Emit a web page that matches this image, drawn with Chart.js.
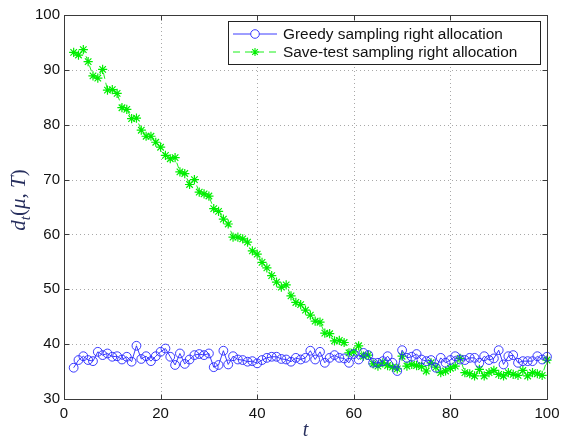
<!DOCTYPE html>
<html>
<head>
<meta charset="utf-8">
<script src="https://cdn.jsdelivr.net/npm/chart.js@4/dist/chart.umd.min.js"></script>
<style>
  html, body { margin: 0; padding: 0; background: #ffffff; }
  canvas { display: block; }
</style>
</head>
<body>
<canvas id="chart" width="561" height="440"></canvas>
<script>
// Time steps t
const steps = [
  2, 3, 4, 5, 6, 7, 8, 9, 10, 11, 12, 13, 14, 15, 16, 17, 18, 19, 20,
  21, 22, 23, 24, 25, 26, 27, 28, 29, 30, 31, 32, 33, 34, 35, 36, 37, 38, 39, 40,
  41, 42, 43, 44, 45, 46, 47, 48, 49, 50, 51, 52, 53, 54, 55, 56, 57, 58, 59, 60,
  61, 62, 63, 64, 65, 66, 67, 68, 69, 70, 71, 72, 73, 74, 75, 76, 77, 78, 79, 80,
  81, 82, 83, 84, 85, 86, 87, 88, 89, 90, 91, 92, 93, 94, 95, 96, 97, 98, 99, 100
];

// d_t(mu, T) for greedy sampling
const greedy = [
  35.7, 37.1, 37.8, 37.1, 36.9, 38.6, 38.0, 38.3, 37.7, 37.8, 37.2, 37.7, 36.8, 39.7, 37.3, 37.8, 36.9, 37.8, 38.6,
  39.2, 37.7, 36.2, 38.3, 36.4, 37.2, 38.0, 38.2, 38.0, 38.3, 35.8, 36.2, 38.8, 36.3, 37.8, 37.2, 37.1, 36.8, 36.9, 36.5,
  37.1, 37.5, 37.7, 37.7, 37.3, 37.2, 36.8, 37.5, 37.2, 37.5, 38.8, 37.2, 38.6, 36.6, 37.5, 38.0, 37.5, 37.4, 36.6, 38.2,
  37.2, 38.4, 38.0, 36.6, 36.6, 36.9, 37.8, 36.6, 35.1, 38.9, 37.5, 37.7, 38.2, 37.2, 36.9, 37.1, 35.7, 37.5, 36.6, 37.1,
  37.8, 37.2, 37.1, 37.5, 37.5, 36.6, 37.8, 37.1, 37.4, 38.9, 36.3, 37.8, 38.0, 36.6, 36.9, 36.9, 36.9, 37.8, 37.2, 37.7
];

// d_t(mu, T) for save-test sampling
const saveTest = [
  93.2, 92.7, 93.7, 91.5, 88.9, 88.5, 90.1, 86.3, 86.4, 85.7, 83.1, 82.8, 81.1, 81.2, 79.0, 77.9, 77.9, 76.8, 75.9,
  74.4, 73.8, 74.0, 71.4, 71.1, 69.1, 70.0, 67.7, 67.4, 67.0, 64.7, 64.2, 62.8, 61.9, 59.5, 59.5, 59.2, 58.6, 57.0, 56.4,
  54.9, 53.9, 52.5, 51.3, 50.4, 50.8, 48.8, 47.6, 47.2, 46.2, 45.3, 44.2, 44.0, 42.0, 41.9, 40.6, 40.7, 40.3, 38.4, 38.6,
  39.7, 37.8, 38.0, 36.4, 36.0, 36.6, 36.1, 35.8, 35.5, 37.8, 36.0, 36.3, 36.1, 35.9, 35.1, 36.6, 35.8, 34.8, 35.1, 35.6,
  36.0, 37.4, 34.8, 34.6, 34.2, 35.4, 34.2, 34.8, 35.2, 34.5, 34.2, 34.8, 34.5, 34.3, 35.2, 34.2, 34.8, 34.6, 34.3, 37.1
];

const xTicks = [0, 20, 40, 60, 80, 100];
const yTicks = [30, 40, 50, 60, 70, 80, 90, 100];
const seriesNames = ['Greedy sampling right allocation', 'Save-test sampling right allocation'];

const BLUE = '#2626ff';
const GREEN = '#00ee00';
const LABEL_COLOR = '#272f5e';

// Draws MATLAB-style axes: dotted grid, box, inward ticks, legend and axis labels
const matlabAxes = {
  id: 'matlabAxes',
  beforeDatasetsDraw(chart) {
    const { ctx, chartArea: a, scales: { x, y } } = chart;
    ctx.save();
    ctx.strokeStyle = '#a8a8a8';
    ctx.lineWidth = 1;
    ctx.setLineDash([1, 3]);
    xTicks.forEach(v => {
      if (v === xTicks[0] || v === xTicks[xTicks.length - 1]) return;
      const px = Math.round(x.getPixelForValue(v)) + 0.5;
      ctx.beginPath(); ctx.moveTo(px, a.top); ctx.lineTo(px, a.bottom); ctx.stroke();
    });
    yTicks.forEach(v => {
      if (v === yTicks[0] || v === yTicks[yTicks.length - 1]) return;
      const py = Math.round(y.getPixelForValue(v)) + 0.5;
      ctx.beginPath(); ctx.moveTo(a.left, py); ctx.lineTo(a.right, py); ctx.stroke();
    });
    ctx.restore();
  },
  afterDatasetsDraw(chart) {
    const { ctx, chartArea: a, scales: { x, y } } = chart;
    ctx.save();
    // box
    ctx.strokeStyle = '#3a3a3a';
    ctx.lineWidth = 1;
    ctx.setLineDash([]);
    const L = Math.round(a.left) + 0.5, R = Math.round(a.right) + 0.5;
    const T = Math.round(a.top) + 0.5, B = Math.round(a.bottom) + 0.5;
    ctx.strokeRect(L, T, R - L, B - T);
    // inward ticks on all sides
    const tl = 5;
    xTicks.forEach(v => {
      const px = Math.round(x.getPixelForValue(v)) + 0.5;
      ctx.beginPath();
      ctx.moveTo(px, B); ctx.lineTo(px, B - tl);
      ctx.moveTo(px, T); ctx.lineTo(px, T + tl);
      ctx.stroke();
    });
    yTicks.forEach(v => {
      const py = Math.round(y.getPixelForValue(v)) + 0.5;
      ctx.beginPath();
      ctx.moveTo(L, py); ctx.lineTo(L + tl, py);
      ctx.moveTo(R, py); ctx.lineTo(R - tl, py);
      ctx.stroke();
    });

    // legend
    const lx = 228.5, ly = 21.5, lw = 312, lh = 43;
    ctx.fillStyle = '#ffffff';
    ctx.fillRect(lx, ly, lw, lh);
    ctx.strokeStyle = '#222222';
    ctx.strokeRect(lx, ly, lw, lh);
    const rows = [34, 52];
    const sx0 = 233, sx1 = 277, mx = 255;
    // greedy entry
    ctx.strokeStyle = BLUE; ctx.lineWidth = 0.9;
    ctx.beginPath(); ctx.moveTo(sx0, rows[0]); ctx.lineTo(sx1, rows[0]); ctx.stroke();
    ctx.fillStyle = '#ffffff';
    ctx.beginPath(); ctx.arc(mx, rows[0], 4.3, 0, Math.PI * 2); ctx.fill(); ctx.stroke();
    // save-test entry
    ctx.strokeStyle = GREEN; ctx.lineWidth = 0.9;
    ctx.setLineDash([7, 5]);
    ctx.beginPath(); ctx.moveTo(sx0, rows[1]); ctx.lineTo(sx1, rows[1]); ctx.stroke();
    ctx.setLineDash([]);
    ctx.lineWidth = 1.1;
    const r = 4;
    ctx.beginPath();
    for (let k = 0; k < 4; k++) {
      const ang = k * Math.PI / 4;
      ctx.moveTo(mx - r * Math.cos(ang), rows[1] - r * Math.sin(ang));
      ctx.lineTo(mx + r * Math.cos(ang), rows[1] + r * Math.sin(ang));
    }
    ctx.stroke();
    ctx.fillStyle = '#111111';
    ctx.font = '15.4px "Liberation Sans", Arial, sans-serif';
    ctx.textAlign = 'left';
    ctx.textBaseline = 'middle';
    ctx.fillText(seriesNames[0], 283, rows[0] + 0.5);
    ctx.fillText(seriesNames[1], 283, rows[1] + 0.5);

    // x-axis label
    ctx.fillStyle = LABEL_COLOR;
    ctx.font = 'italic 20px "Liberation Serif", "DejaVu Serif", serif';
    ctx.textAlign = 'center';
    ctx.textBaseline = 'middle';
    ctx.fillText('t', (a.left + a.right) / 2, 431);

    // y-axis label: d_t(μ, T)
    ctx.translate(18, 200);
    ctx.rotate(-Math.PI / 2);
    const it = 'italic 21px "Liberation Serif", "DejaVu Serif", serif';
    const up = '21px "Liberation Serif", "DejaVu Serif", serif';
    const sub = 'italic 15px "Liberation Serif", "DejaVu Serif", serif';
    const parts = [
      { s: 'd', f: it, dy: 0 },
      { s: 't', f: sub, dy: 5 },
      { s: '(', f: up, dy: 0 },
      { s: 'μ', f: it, dy: 0 },
      { s: ', ', f: up, dy: 0 },
      { s: 'T', f: it, dy: 0 },
      { s: ')', f: up, dy: 0 }
    ];
    let total = 0;
    parts.forEach(p => { ctx.font = p.f; p.w = ctx.measureText(p.s).width; total += p.w; });
    let cx = -total / 2;
    ctx.textAlign = 'left';
    ctx.textBaseline = 'alphabetic';
    parts.forEach(p => {
      ctx.font = p.f;
      ctx.fillText(p.s, cx, 7 + p.dy);
      cx += p.w;
    });
    ctx.restore();
  }
};

new Chart(document.getElementById('chart'), {
  type: 'line',
  data: {
    datasets: [
      {
        label: seriesNames[0],
        data: steps.map((t, i) => ({ x: t, y: greedy[i] })),
        borderColor: BLUE,
        borderWidth: 0.9,
        backgroundColor: 'rgba(0,0,0,0)',
        pointStyle: 'circle',
        pointRadius: 4.4,
        pointBorderWidth: 0.9,
        pointBorderColor: BLUE,
        pointBackgroundColor: 'rgba(0,0,0,0)',
        tension: 0,
        clip: false
      },
      {
        label: seriesNames[1],
        data: steps.map((t, i) => ({ x: t, y: saveTest[i] })),
        borderColor: GREEN,
        borderWidth: 0.9,
        borderDash: [6, 4],
        backgroundColor: 'rgba(0,0,0,0)',
        pointStyle: 'star',
        pointRadius: 4.6,
        pointBorderWidth: 1.2,
        pointBorderColor: GREEN,
        pointBackgroundColor: GREEN,
        tension: 0,
        clip: false
      }
    ]
  },
  options: {
    responsive: false,
    animation: false,
    devicePixelRatio: 1,
    layout: { padding: { left: 0, right: 14, top: 15, bottom: 0 } },
    plugins: {
      legend: { display: false },
      tooltip: { enabled: false },
      title: { display: false }
    },
    scales: {
      x: {
        type: 'linear',
        min: 0,
        max: 100,
        afterBuildTicks: s => { s.ticks = xTicks.map(v => ({ value: v })); },
        afterFit: s => { s.height = 41; s.paddingLeft = 0; s.paddingRight = 0; },
        grid: { display: false, drawTicks: false },
        border: { display: false },
        ticks: { color: '#111111', font: { family: '"Liberation Sans", Arial, sans-serif', size: 15 }, padding: 6, maxRotation: 0 }
      },
      y: {
        type: 'linear',
        min: 30,
        max: 100,
        afterBuildTicks: s => { s.ticks = yTicks.map(v => ({ value: v })); },
        afterFit: s => { s.width = 64; s.paddingTop = 0; s.paddingBottom = 0; },
        grid: { display: false, drawTicks: false },
        border: { display: false },
        ticks: { color: '#111111', font: { family: '"Liberation Sans", Arial, sans-serif', size: 15 }, padding: 4 }
      }
    }
  },
  plugins: [matlabAxes]
});
</script>
</body>
</html>
